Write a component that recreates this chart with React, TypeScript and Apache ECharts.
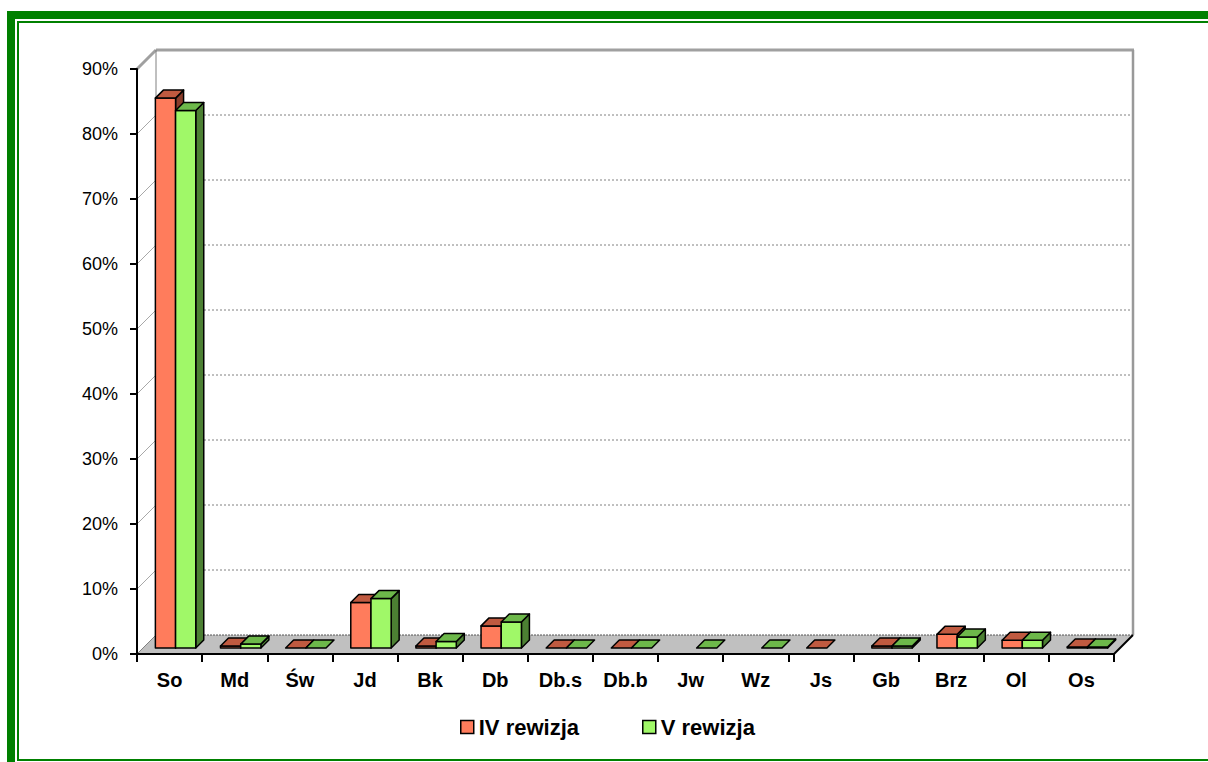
import React, { useEffect, useRef } from "react";
import * as echarts from "echarts";

const categories = ["So", "Md", "Św", "Jd", "Bk", "Db", "Db.s", "Db.b", "Jw", "Wz", "Js", "Gb", "Brz", "Ol", "Os"];
const rev4: (number | null)[] = [84.6, 0.3, 0, 7.0, 0.3, 3.4, 0, 0, null, null, 0, 0.3, 2.1, 1.2, 0.15];
const rev5: (number | null)[] = [82.7, 0.6, 0, 7.6, 1.0, 4.0, 0, 0, 0, 0, null, 0.3, 1.7, 1.2, 0.15];
const yTicks = [0, 10, 20, 30, 40, 50, 60, 70, 80, 90];
const seriesNames = ["IV rewizja", "V rewizja"];

const WALL_D = 19;
const BAR_OFF = 6;
const BAR_D = 8;
const BAR_FRAC = 0.31;

const ORANGE = { front: "#FF7C5C", top: "#C05A40", side: "#8B3D2B" };
const GREEN = { front: "#A0F868", top: "#6DB84A", side: "#4C8033" };

function barRender(slot: number, col: { front: string; top: string; side: string }) {
  return (params: any, api: any) => {
    const idx = api.value(0);
    const val = api.value(1);
    const base = api.coord([idx, 0]);
    const tp = api.coord([idx, val]);
    const band = api.size([1, 0])[0];
    const bw = band * BAR_FRAC;
    const left = base[0] - bw + slot * bw + BAR_OFF;
    const yb = base[1] - BAR_OFF;
    const yt = tp[1] - BAR_OFF;
    const d = BAR_D;
    const stroke = { stroke: "#000", lineWidth: 1.5, lineJoin: "round" };
    const children: any[] = [];
    if (yb - yt > 0.4) {
      children.push({
        type: "polygon",
        shape: { points: [[left + bw, yt], [left + bw + d, yt - d], [left + bw + d, yb - d], [left + bw, yb]] },
        style: { fill: col.side, ...stroke },
      });
      children.push({
        type: "rect",
        shape: { x: left, y: yt, width: bw, height: yb - yt },
        style: { fill: col.front, ...stroke },
      });
    }
    children.push({
      type: "polygon",
      shape: { points: [[left, yt], [left + bw, yt], [left + bw + d, yt - d], [left + d, yt - d]] },
      style: { fill: col.top, ...stroke },
    });
    return { type: "group", children };
  };
}

function wallsRender(params: any, api: any) {
  const cs = params.coordSys;
  const x = cs.x, y = cs.y, w = cs.width, h = cs.height;
  const D = WALL_D;
  const ch: any[] = [];
  ch.push({
    type: "polygon",
    shape: { points: [[x, y + h], [x + w, y + h], [x + w + D, y + h - D], [x + D, y + h - D]] },
    style: { fill: "#C0C0C0", stroke: null },
  });
  yTicks.forEach((v) => {
    const yy = api.coord([0, v])[1];
    if (v === 0) {
      ch.push({ type: "line", shape: { x1: x + D, y1: yy - D, x2: x + w + D, y2: yy - D }, style: { stroke: "#555", lineWidth: 1, lineDash: [2, 1] } });
      ch.push({ type: "line", shape: { x1: x, y1: yy, x2: x + D, y2: yy - D }, style: { stroke: "#808080", lineWidth: 1 } });
    } else if (v === yTicks[yTicks.length - 1]) {
      ch.push({ type: "line", shape: { x1: x + D, y1: yy - D, x2: x + w + D + 1, y2: yy - D }, style: { stroke: "#A0A0A0", lineWidth: 3 } });
      ch.push({ type: "line", shape: { x1: x, y1: yy, x2: x + D, y2: yy - D }, style: { stroke: "#A0A0A0", lineWidth: 3 } });
    } else {
      ch.push({ type: "line", shape: { x1: x + D, y1: yy - D, x2: x + w + D, y2: yy - D }, style: { stroke: "#808080", lineWidth: 1, lineDash: [2, 2] } });
      ch.push({ type: "line", shape: { x1: x, y1: yy, x2: x + D, y2: yy - D }, style: { stroke: "#A8A8A8", lineWidth: 1 } });
    }
  });
  ch.push({ type: "line", shape: { x1: x + D, y1: y - D, x2: x + D, y2: y + h - D }, style: { stroke: "#808080", lineWidth: 1 } });
  ch.push({ type: "line", shape: { x1: x + w + D, y1: y - D, x2: x + w + D, y2: y + h - D }, style: { stroke: "#999999", lineWidth: 2.5 } });
  ch.push({ type: "line", shape: { x1: x + w, y1: y + h, x2: x + w + D, y2: y + h - D }, style: { stroke: "#000", lineWidth: 2 } });
  return { type: "group", children: ch };
}

export default function App() {
  const ref = useRef<HTMLDivElement>(null);
  useEffect(() => {
    if (!ref.current) return;
    const chart = echarts.init(ref.current, null, { renderer: "svg" });
    const GREEN_FRAME = "#008000";
    const option: any = {
      animation: false,
      backgroundColor: "#fff",
      textStyle: { fontFamily: "'Liberation Sans', Arial, sans-serif" },
      grid: { left: 137, right: 94, top: 69, bottom: 108, containLabel: false },
      xAxis: {
        type: "category",
        data: categories,
        boundaryGap: true,
        z: 3,
        axisLine: { lineStyle: { color: "#000", width: 2 } },
        axisTick: { show: true, length: 8, lineStyle: { color: "#000", width: 2 }, alignWithLabel: false },
        axisLabel: { color: "#000", fontSize: 20, fontWeight: "bold", margin: 16, interval: 0 },
        splitLine: { show: false },
      },
      yAxis: {
        type: "value",
        min: 0,
        max: 90,
        interval: 10,
        z: 3,
        axisLine: { show: true, lineStyle: { color: "#000", width: 2 } },
        axisTick: { show: true, length: 7, lineStyle: { color: "#000", width: 2 } },
        axisLabel: { color: "#000", fontSize: 18, margin: 19, formatter: "{value}%" },
        splitLine: { show: false },
      },
      legend: {
        data: seriesNames,
        left: 460,
        top: 716,
        padding: 0,
        itemWidth: 13,
        itemHeight: 13,
        itemGap: 63,
        icon: "rect",
        itemStyle: { borderColor: "#000", borderWidth: 1.5 },
        textStyle: { color: "#000", fontSize: 22, fontWeight: "bold" },
      },
      graphic: [
        { type: "rect", shape: { x: 7, y: 11, width: 1201, height: 8 }, style: { fill: GREEN_FRAME }, z: 10 },
        { type: "rect", shape: { x: 7, y: 11, width: 8, height: 751 }, style: { fill: GREEN_FRAME }, z: 10 },
        { type: "rect", shape: { x: 17, y: 21, width: 1191, height: 2 }, style: { fill: GREEN_FRAME }, z: 10 },
        { type: "rect", shape: { x: 17, y: 21, width: 2, height: 740 }, style: { fill: GREEN_FRAME }, z: 10 },
        { type: "rect", shape: { x: 17, y: 759, width: 1191, height: 2 }, style: { fill: GREEN_FRAME }, z: 10 },
      ],
      series: [
        {
          type: "custom",
          name: "walls",
          z: 1,
          silent: true,
          renderItem: wallsRender,
          data: [[0, 0]],
        },
        {
          type: "custom",
          name: seriesNames[0],
          z: 4,
          itemStyle: { color: ORANGE.front },
          renderItem: barRender(0, ORANGE),
          data: rev4.map((v, i) => (v === null ? null : [i, v])).filter((d) => d !== null),
        },
        {
          type: "custom",
          name: seriesNames[1],
          z: 5,
          itemStyle: { color: GREEN.front },
          renderItem: barRender(1, GREEN),
          data: rev5.map((v, i) => (v === null ? null : [i, v])).filter((d) => d !== null),
        },
      ],
    };
    chart.setOption(option);
    return () => chart.dispose();
  }, []);
  return <div ref={ref} style={{ position: "absolute", left: 0, top: 0, width: 1208, height: 762 }} />;
}
